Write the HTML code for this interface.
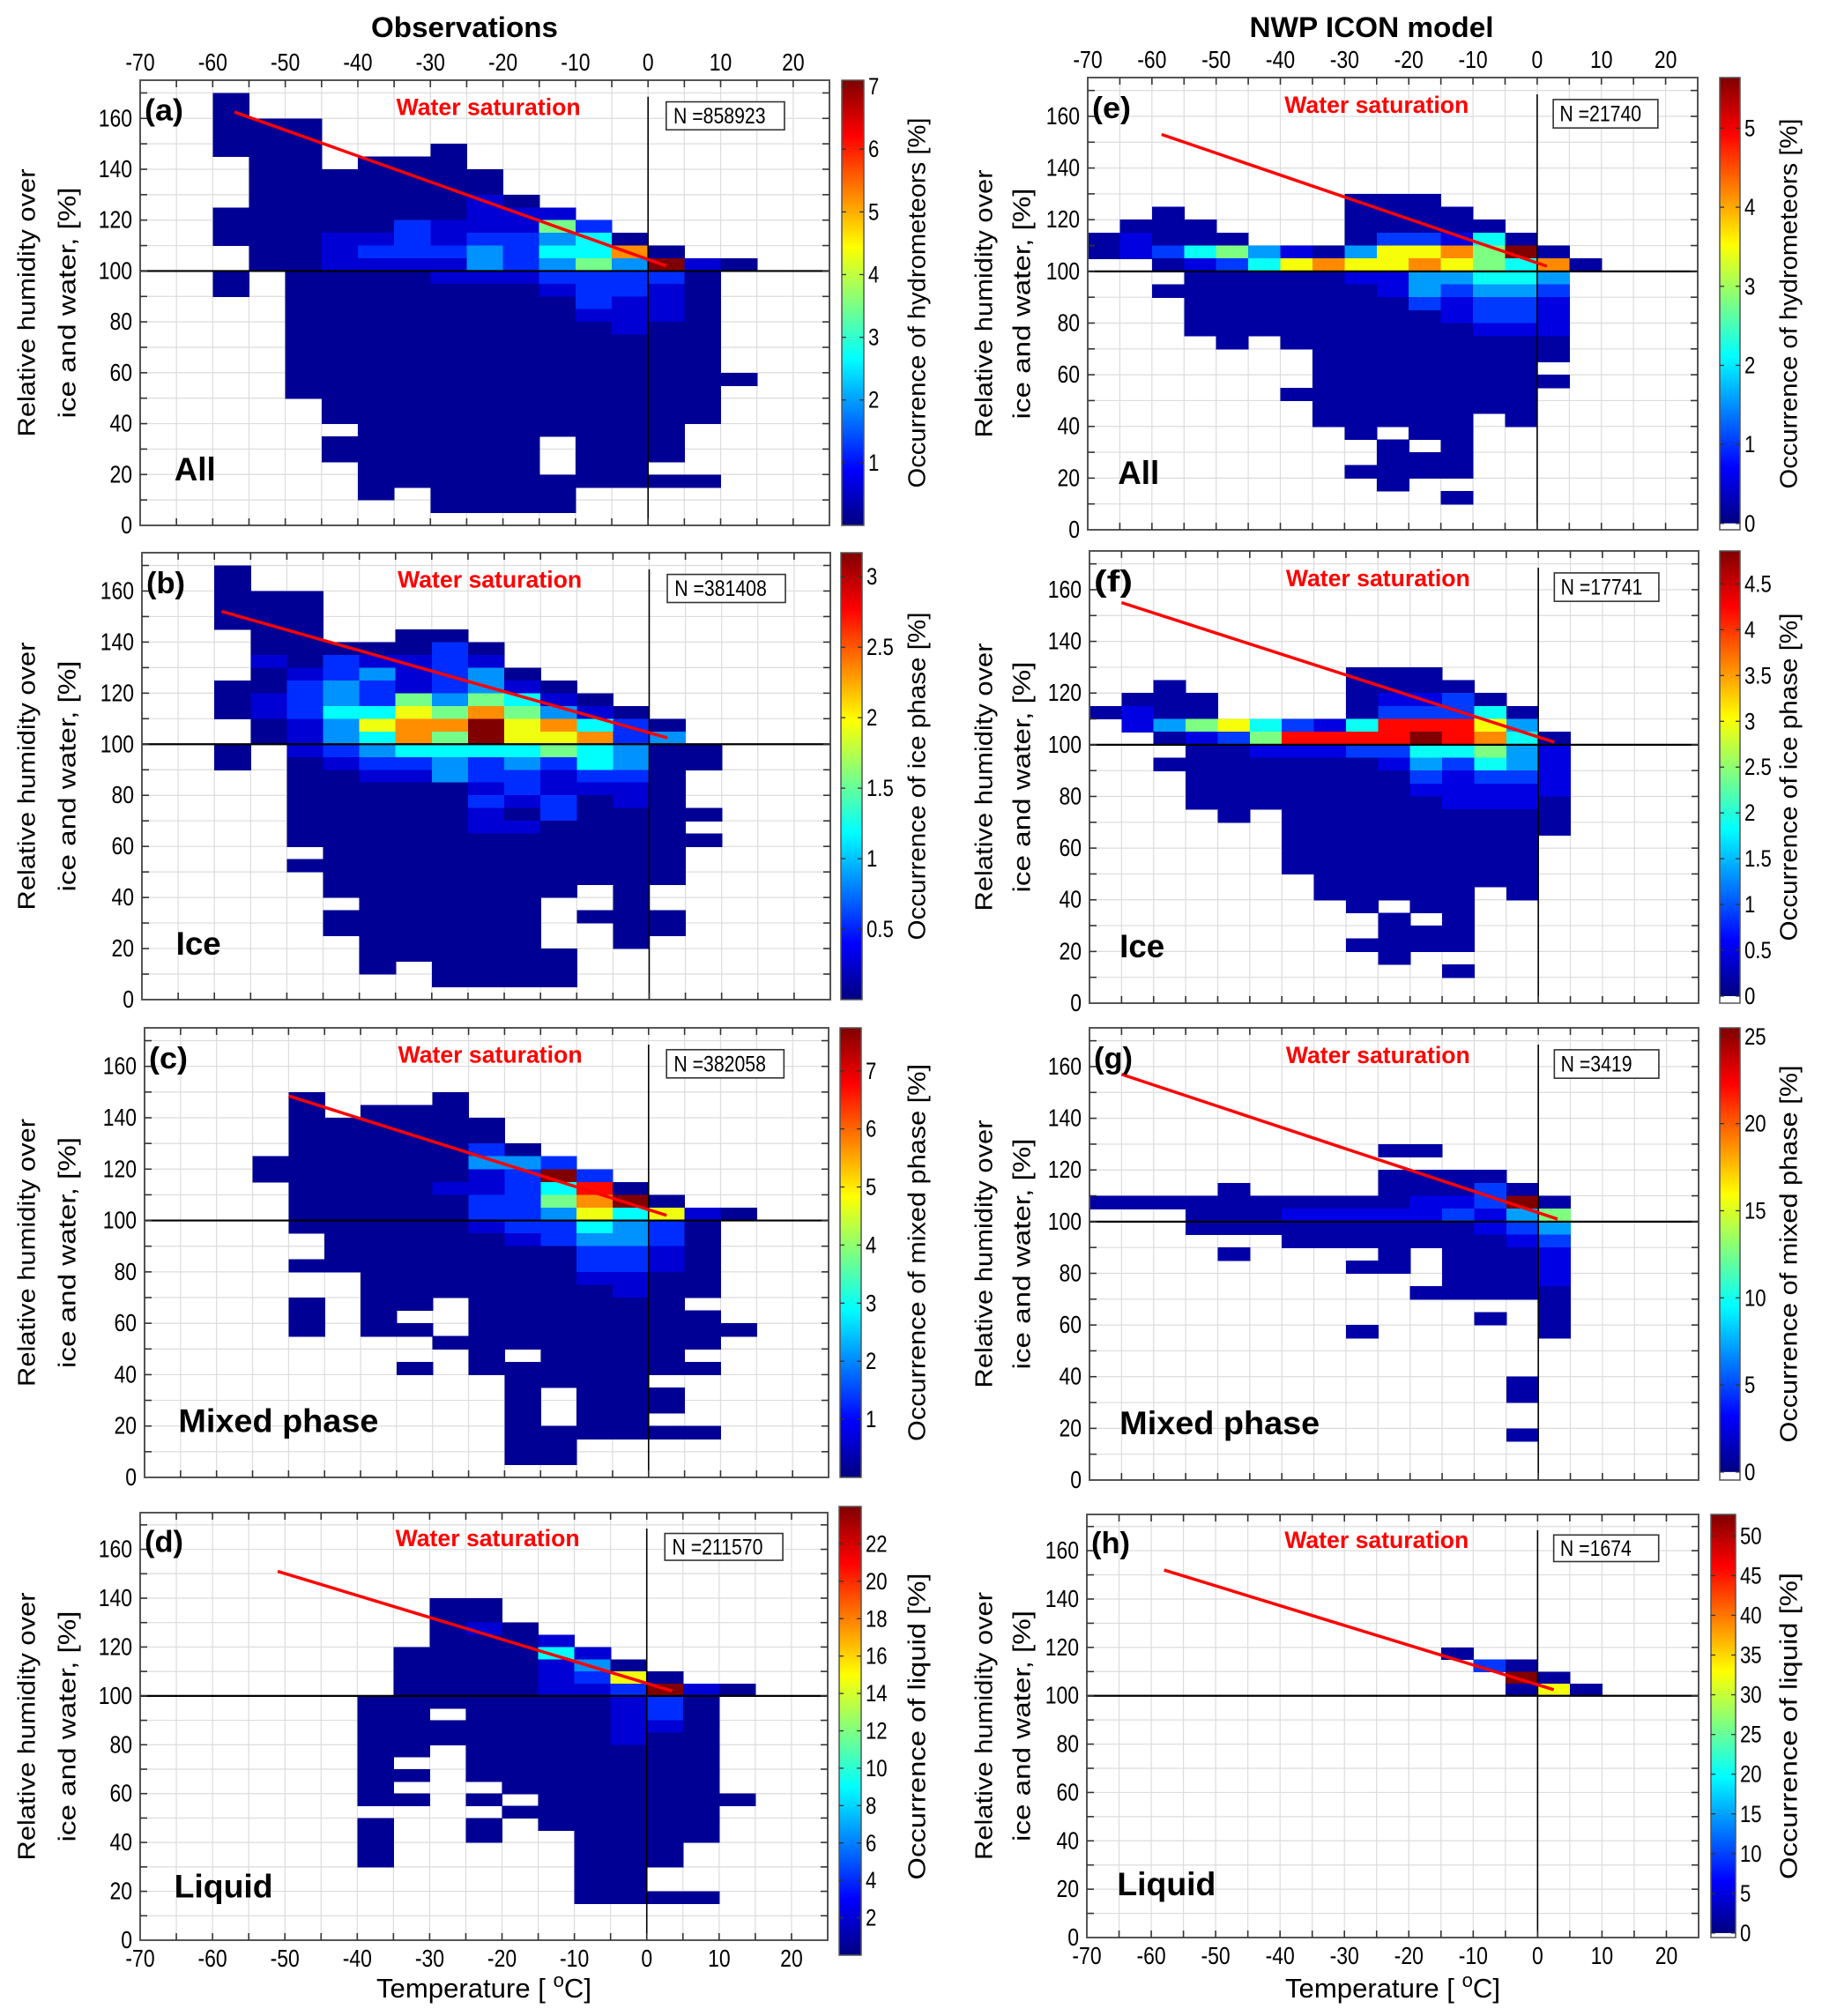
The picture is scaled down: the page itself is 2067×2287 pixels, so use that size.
<!DOCTYPE html>
<html><head><meta charset="utf-8"><title>RH vs temperature occurrence</title>
<style>html,body{margin:0;padding:0;background:#fff}svg{display:block}</style></head>
<body>
<svg id="fig" xmlns="http://www.w3.org/2000/svg" width="2067" height="2287" viewBox="0 0 2067 2287" font-family="'Liberation Sans', sans-serif">
<defs>
<linearGradient id="jet" x1="0" y1="1" x2="0" y2="0">
<stop offset="0" stop-color="#000080"/><stop offset="0.125" stop-color="#0000ff"/><stop offset="0.375" stop-color="#00ffff"/><stop offset="0.625" stop-color="#ffff00"/><stop offset="0.875" stop-color="#ff0000"/><stop offset="1" stop-color="#800000"/>
</linearGradient>
</defs>
</svg>
<script>
// ---- data ----
const xTicks=[-70,-60,-50,-40,-30,-20,-10,0,10,20];
const yTicks=[0,20,40,60,80,100,120,140,160];
const T_MIN=-70,T_MAX=25,RH_MIN=0,RH_MAX=175,BIN_T=5,BIN_RH=5;
// rows: "lowerRH|levels per 5-degree bin from -70 (0-9 level, '.' empty)"
const gridA=["165|..0","160|..0","155|..000","150|..000","145|..000...0","140|...00.000","135|...0000000","130|...0000000","125|...00000010","120|..0000000111","115|..00000211152","110|..000112122340","105|...001222324470","100|...00111132353910","95|..0.000011122220","90|..0.000000012210","85|....000000002110","80|....000000001110","75|....000000000100","70|....000000000000","65|....000000000000","60|....000000000000","55|....0000000000000","50|....000000000000","45|.....00000000000","40|.....00000000000","35|......000000000","30|.....000000.000","25|.....000000.000","20|......00000.00","15|......0000000000","10|......0.0000","5|........0000"];
const gridB=["165|..0","160|..0","155|..000","150|..000","145|..000","140|...00..00","135|...0000020","130|...1021121","125|...01231230","120|..0023212310","115|..01232535410","110|..012446575310","105|...013677967420","100|...013475966723","95|..0.123444454300","90|..0.012232324300","85|....00113221220","80|....00000121110","75|....00000212010","70|....000001020000","65|....00000110000","60|....000000000000","55|.....0000000000","50|....00000000000","45|.....0000000000","40|.....0000000.0","35|......00000..0","30|.....000000.000","25|.....000000..00","20|......00000..0","15|......000000","10|......0.0000","5|........0000"];
const gridC=["145|....0...0","140|....0.000","135|....000000","130|....000000","125|....0000020","120|...000000332","115|...0000001292","110|....0000112480","105|....00000225790","100|....0000022364610","95|....000001224320","90|.....00000123320","85|.....00000002210","80|....000000002210","75|......0000001100","70|......0000000100","65|....0.00.000000","60|....0.0..0000000","55|....0.00.00000000","50|........00000000","45|.........0.0000","40|.......0.0000000","35|..........0000","30|..........0.000","25|..........0.000","20|..........0.00","15|..........000000","10|..........00","5|..........00"];
const gridD=["135|........00","130|........00","125|........010","120|........0001","115|.......000041","110|.......0000130","105|.......00001260","100|.......0000112910","95|......0000000120","90|......00.0000120","85|......0000000110","80|......0000000100","75|......00.0000000","70|......0..0000000","65|......00.0000000","60|......0...000000","55|......00.0.000000","50|..........000000","45|......0..0.00000","40|......0..0..0000","35|......0.....000","30|......0.....000","25|............00","20|............00","15|............0000"];
const gridE=["125|........000","120|..0.....0000","115|.000....00000","110|01000...022140","105|012453103667590","100|..01246766765470","95|...000001133443","90|..0000000132332","85|...000000021221","80|...000000001221","75|...000000000111","70|....0.000000000","65|.......00000000","60|.......0000000","55|.......00000000","50|......00000000","45|.......0000000","40|.......00000.0","35|........0.00","30|.........0.0","25|.........000","20|........0000","15|.........0","10|...........0"];
const gridF=["125|........000","120|..0.....0000","115|.000....01120","110|0100....022240","105|.1356421488863","100|..0125888898740","95|...001112244531","90|..0000000132431","85|...000000021221","80|...000000011111","75|...000000001110","70|....0.000000000","65|......000000000","60|......00000000","55|......00000000","50|......00000000","45|.......0000000","40|.......00000.0","35|........0.00","30|.........0.0","25|.........000","20|........0000","15|.........0","10|...........0"];
const gridG=["125|.........00","115|.........0000","110|....0....00020","105|000000000011290","100|...000111112135","95|...000000000123","90|......000000012","85|....0....0.0001","80|........00.0001","75|...........0001","70|..........00000","65|..............0","60|............0.0","55|........0.....0","35|.............0","30|.............0","15|.............0"];
const gridH=["115|...........0","110|............20","105|.............90","100|.............060"];
const cbMax=[7.1,3.17,7.74,24,5.64,4.86,25.5,52.7];
const cbMin=[0,0,0,0,-0.08,-0.077,-0.46,-0.56];
const cbTicksA=[1,2,3,4,5,6,7];
const cbTicksB=[0.5,1,1.5,2,2.5,3];
const cbTicksC=[1,2,3,4,5,6,7];
const cbTicksD=[2,4,6,8,10,12,14,16,18,20,22];
const cbTicksE=[0,1,2,3,4,5];
const cbTicksF=[0,0.5,1,1.5,2,2.5,3,3.5,4,4.5];
const cbTicksG=[0,5,10,15,20,25];
const cbTicksH=[0,5,10,15,20,25,30,35,40,45,50];
const satStartT=[-57,-59,-50,-51,-58.5,-65,-65,-58];
const satStartRH=[162.5,152,148.5,151,153,155,157,152];
const satEndT=[2.5,2.5,2.5,3.5,1.5,2.5,3,2.5];
const satEndRH=[102,102.5,102,102,102,101,101,102.5];
const nCounts=["858923","381408","382058","211570","21740","17741","3419","1674"];
const panelLetters=["(a)","(b)","(c)","(d)","(e)","(f)","(g)","(h)"];
const categories=["All","Ice","Mixed phase","Liquid","All","Ice","Mixed phase","Liquid"];
const cbTitles=["Occurrence of hydrometeors [%]","Occurrence of ice phase [%]","Occurrence of mixed phase [%]","Occurrence of liquid [%]","Occurrence of hydrometeors [%]","Occurrence of ice phase [%]","Occurrence of mixed phase [%]","Occurrence of liquid [%]"];

// ---- layout ----
const grids=[gridA,gridB,gridC,gridD,gridE,gridF,gridG,gridH];
const cbTickSets=[cbTicksA,cbTicksB,cbTicksC,cbTicksD,cbTicksE,cbTicksF,cbTicksG,cbTicksH];
const boxes=[[159,941,91,596],[161,942,627,1134],[164,940,1166,1676],[159,939,1716,2201],[1234,1926,88,601],[1236,1927,625,1138],[1236,1927,1166,1679],[1233,1927,1718,2198]];
const cbBoxes=[[955,980,91,596],[954,978,627,1134],[953,977,1166,1676],[952,977,1709,2218],[1951,1974,88,601],[1951,1974,625,1138],[1951,1974,1166,1679],[1941,1969,1718,2198]];
const cbTitleLen=[420,372,428,348,420,372,428,348];
const catLen=[47,51,227,112,47,51,227,112];

const NS='http://www.w3.org/2000/svg';
const svg=document.getElementById('fig');
function mk(tag,attrs,parent){const e=document.createElementNS(NS,tag);for(const k in attrs)e.setAttribute(k,attrs[k]);(parent||svg).appendChild(e);return e;}
function jet(t){t=Math.max(0,Math.min(1,t));const c=x=>Math.round(255*Math.max(0,Math.min(1,1.5-Math.abs(4*t-x))));return 'rgb('+c(3)+','+c(2)+','+c(1)+')';}
function txt(parent,x,y,s,o){
  const a={x:0,y:0,'font-size':o.size||26,fill:o.fill||'#000','text-anchor':o.anchor||'start'};
  if(o.bold)a['font-weight']='bold';
  let tr='translate('+x+','+y+')';
  if(o.rot)tr+=' rotate('+o.rot+')';
  if(o.sx)tr+=' scale('+o.sx+',1)';
  a.transform=tr;
  if(o.len){a.textLength=o.len;a.lengthAdjust='spacingAndGlyphs';}
  if(o.mid)a['dominant-baseline']='central';
  const t=mk('text',a,parent);t.textContent=s;return t;
}

function drawPanel(k){
  const [x0,x1,y0,y1]=boxes[k];
  const xs=T=>x0+(T-T_MIN)/(T_MAX-T_MIN)*(x1-x0);
  const ys=R=>y1-(R-RH_MIN)/(RH_MAX-RH_MIN)*(y1-y0);
  const g=mk('g',{});
  
  
  const bg=mk('rect',{x:x0,y:y0,width:x1-x0,height:y1-y0,fill:'#fff'},g);
  
  
  const grid=mk('g',{stroke:'#dcdcdc','stroke-width':1.2},g);
  
  
  for(let T=T_MIN+BIN_T;T<T_MAX;T+=BIN_T)mk('line',{x1:xs(T),x2:xs(T),y1:y0,y2:y1},grid);
  for(let R=10;R<RH_MAX;R+=10)mk('line',{x1:x0,x2:x1,y1:ys(R),y2:ys(R)},grid);
  const cells=mk('g',{'shape-rendering':'crispEdges'},g);
  
  
  const vmax=cbMax[k],vmin=cbMin[k];
  grids[k].forEach(row=>{
    const parts=row.split('|');const rhLow=+parts[0];const s=parts[1];
    for(let i=0;i<s.length;i++){
      const ch=s[i];if(ch==='.')continue;
      const v=vmax*(0.02+0.98*Math.pow((+ch)/9,1.25));
      const T0=T_MIN+i*BIN_T;
      const r=mk('rect',{x:xs(T0),y:ys(rhLow+BIN_RH),width:xs(T0+BIN_T)-xs(T0)+0.6,height:ys(rhLow)-ys(rhLow+BIN_RH)+0.6,fill:jet((v-vmin)/(vmax-vmin))},cells);
      
      
    }
  });
  const h100=mk('line',{x1:x0,x2:x1,y1:ys(100),y2:ys(100),stroke:'#000','stroke-width':2.2},g);
  
  
  const v0=mk('line',{x1:xs(0),x2:xs(0),y1:ys(168.5),y2:y1,stroke:'#000','stroke-width':1.6},g);
  
  
  const fr=mk('rect',{x:x0,y:y0,width:x1-x0,height:y1-y0,fill:'none',stroke:'#555','stroke-width':2},g);
  
  
  const tk=mk('g',{stroke:'#333','stroke-width':1.6},g);
  
  
  for(let T=T_MIN+BIN_T;T<T_MAX;T+=BIN_T){mk('line',{x1:xs(T),x2:xs(T),y1:y0,y2:y0+8},tk);mk('line',{x1:xs(T),x2:xs(T),y1:y1,y2:y1-8},tk);}
  for(let R=10;R<RH_MAX;R+=10){mk('line',{x1:x0,x2:x0+8,y1:ys(R),y2:ys(R)},tk);mk('line',{x1:x1,x2:x1-8,y1:ys(R),y2:ys(R)},tk);}
  yTicks.forEach(R=>{const t=txt(g,x0-9,ys(R)+9,String(R),{size:28,anchor:'end',sx:0.82});
    
    });
  if(k===0||k===4){xTicks.forEach(T=>{const t=txt(g,xs(T),y0-11,String(T),{size:28,anchor:'middle',sx:0.82});
    
    });}
  if(k===3||k===7){xTicks.forEach(T=>{const t=txt(g,xs(T),y1+30,String(T),{size:28,anchor:'middle',sx:0.82});
    
    });
    const cx=(x0+x1)/2;
    const xt=mk('text',{x:cx,y:2266,'font-size':31,'text-anchor':'middle',textLength:244,lengthAdjust:'spacingAndGlyphs'},g);
    
    
    const t1=document.createElementNS(NS,'tspan');t1.textContent='Temperature [ ';xt.appendChild(t1);
    const t2=document.createElementNS(NS,'tspan');t2.setAttribute('dy','-12');t2.setAttribute('font-size','22');t2.textContent='o';xt.appendChild(t2);
    const t3=document.createElementNS(NS,'tspan');t3.setAttribute('dy','12');t3.textContent='C]';xt.appendChild(t3);
  }
  const sl=mk('line',{x1:xs(satStartT[k]),y1:ys(satStartRH[k]),x2:xs(satEndT[k]),y2:ys(satEndRH[k]),stroke:'#ff0000','stroke-width':3.5},g);
  
  
  const ws=txt(g,xs(k<4?-22:-25),ys(164.5),'Water saturation',{size:27,bold:true,fill:'#ff0000',anchor:'middle',len:209,mid:true});
  
  
  const nb=mk('rect',{x:xs(2.5),y:ys(166.5),width:xs(18.8)-xs(2.5),height:ys(155.5)-ys(166.5),fill:'#fff',stroke:'#333','stroke-width':1.6},g);
  
  
  const nt=txt(g,xs(3.5),ys(161),'N ='+nCounts[k],{size:25,sx:0.85,mid:true});
  
  
  const pl=txt(g,x0+5,ys(163),panelLetters[k],{size:34,bold:true,len:44,mid:true});
  
  
  const ct=txt(g,xs(-65.3),ys(22),categories[k],{size:37,bold:true,len:catLen[k],mid:true});
  
  
  const left=k<4;
  const ya=txt(g,left?30:1116,(y0+y1)/2,'Relative humidity over',{size:28,anchor:'middle',rot:-90,len:304,mid:true});
  
  
  const yb=txt(g,left?76:1159,(y0+y1)/2,'ice and water, [%]',{size:28,anchor:'middle',rot:-90,len:262,mid:true});
  
  
  const [cx0,cx1,cy0,cy1]=cbBoxes[k];
  const cys=v=>cy1-(v-vmin)/(vmax-vmin)*(cy1-cy0);
  const cb=mk('g',{},g);
  
  
  const z=vmin<0?cys(0):cy1;
  mk('rect',{x:cx0,y:cy0,width:cx1-cx0,height:z-cy0,fill:'url(#jet)'},cb);
  if(vmin<0)mk('rect',{x:cx0,y:z,width:cx1-cx0,height:cy1-z,fill:'#fff'},cb);
  mk('rect',{x:cx0,y:cy0,width:cx1-cx0,height:cy1-cy0,fill:'none',stroke:'#555','stroke-width':1.5},cb);
  cbTickSets[k].forEach(v=>{const y=cys(v);
    mk('line',{x1:cx0,x2:cx0+5,y1:y,y2:y,stroke:'#333','stroke-width':1.3},cb);
    mk('line',{x1:cx1,x2:cx1-5,y1:y,y2:y,stroke:'#333','stroke-width':1.3},cb);
    const t=txt(cb,cx1+5,y+9,String(v),{size:27,sx:0.82});
    
    });
  const cbt=txt(g,left?1040:2029,(y0+y1)/2,cbTitles[k],{size:28,anchor:'middle',rot:-90,len:cbTitleLen[k],mid:true});
  
  
}
for(let k=0;k<8;k++)drawPanel(k);
const h1=txt(svg,527,42,'Observations',{size:32,bold:true,anchor:'middle',len:212});


const h2=txt(svg,1556,42,'NWP ICON model',{size:32,bold:true,anchor:'middle',len:277});


</script>
</body></html>
